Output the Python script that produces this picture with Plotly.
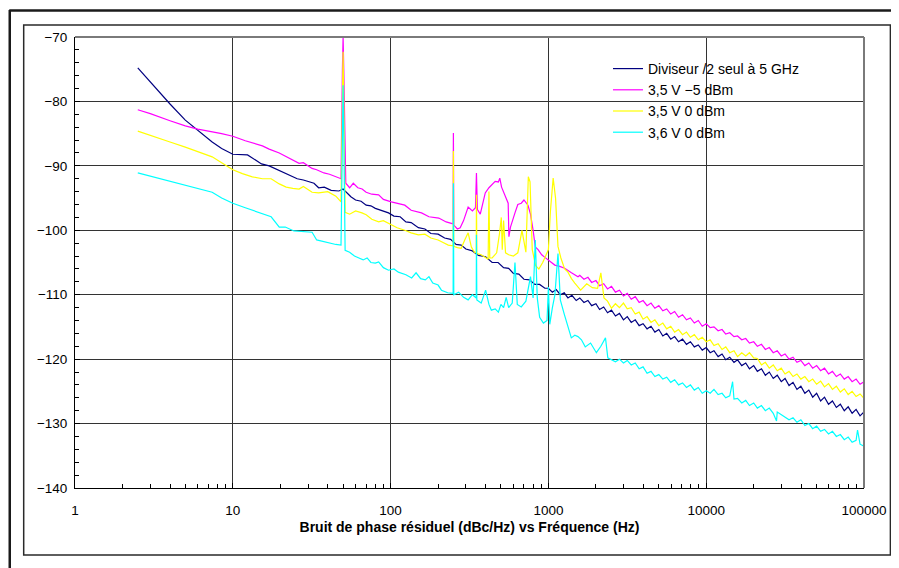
import plotly.graph_objects as go

# ---------------- data ----------------
# Diviseur /2 seul à 5 GHz
DIV_F = [2.5, 3, 4, 5, 6, 7.4, 8.5, 10, 12.4, 13,
         15.2, 17, 20, 23, 25.6, 28, 30, 32.7, 35, 38,
         42, 47, 50, 53, 56, 60, 65, 70, 75, 80,
         85, 90, 97, 105, 115, 125, 135, 150, 165, 180,
         200, 220, 240, 260, 280, 300, 330, 360, 400, 440,
         480, 520, 560, 600, 650, 700, 760, 820, 880, 950,
         1000, 1060, 1120, 1190, 1260, 1330, 1410, 1500, 1580, 1680,
         1780, 1880, 2000, 2110, 2240, 2370, 2510, 2660, 2820, 2990,
         3160, 3350, 3550, 3760, 3980, 4220, 4470, 4730, 5010, 5310,
         5620, 5960, 6310, 6680, 7080, 7500, 7940, 8410, 8910, 9440,
         10000, 10600, 11200, 11900, 12600, 13300, 14100, 15000, 15800, 16800,
         17800, 18800, 20000, 21100, 22400, 23700, 25100, 26600, 28200, 29900,
         31600, 33500, 35500, 37600, 39800, 42200, 44700, 47300, 50100, 53100,
         56200, 59600, 63100, 66800, 70800, 75000, 79400, 84100, 89100, 94400,
         100000]
DIV_DB = [-74.8, -77.0, -80.4, -82.9, -84.5, -86.3, -87.3, -88.2, -88.3, -88.6,
          -89.7, -90.0, -90.8, -91.5, -92.0, -92.2, -92.4, -92.7, -93.4, -93.3,
          -93.8, -93.9, -93.6, -94.2, -94.8, -95.3, -95.5, -96.1, -96.2, -96.6,
          -96.8, -97.1, -97.3, -97.8, -97.9, -98.7, -98.8, -99.6, -99.8, -100.5,
          -100.6, -101.2, -101.4, -102.2, -102.3, -102.9, -103.2, -103.9, -104.1, -105.0,
          -105.0, -105.8, -105.9, -106.7, -106.8, -107.6, -107.7, -108.4, -108.4, -109.0,
          -109.0, -109.6, -109.2, -110.0, -109.7, -110.5, -110.1, -110.9, -110.5, -111.2,
          -110.9, -111.7, -111.4, -112.3, -111.9, -112.8, -112.4, -113.3, -112.9, -113.9,
          -113.4, -114.3, -113.9, -114.8, -114.5, -115.3, -114.9, -115.8, -115.4, -116.4,
          -116.0, -116.9, -116.5, -117.3, -116.9, -117.7, -117.3, -118.1, -117.8, -118.6,
          -118.2, -119.0, -118.7, -119.6, -119.2, -120.1, -119.7, -120.5, -120.1, -121.0,
          -120.6, -121.5, -121.0, -121.9, -121.5, -122.5, -122.0, -123.0, -122.5, -123.5,
          -123.0, -124.1, -123.6, -124.7, -124.2, -125.3, -124.8, -125.9, -125.3, -126.5,
          -125.9, -127.0, -126.5, -127.5, -127.0, -128.0, -127.4, -128.4, -127.8, -128.8,
          -128.2]

# 3,5 V -5 dBm
M5_F = [2.5, 3, 4, 5, 6, 7.4, 8.5, 10, 12, 15.4,
        17, 19.7, 22.8, 26.3, 28, 31.8, 34, 37.8, 41, 45.6,
        48.5, 49.5, 50, 50.5, 51.5, 52, 55, 58, 62, 66,
        70, 76, 84, 90, 101, 110, 123, 135, 157, 175,
        202, 225, 244, 249, 250, 251.5, 265, 276, 290, 310,
        330, 345, 350, 355, 370, 398, 420, 436, 460, 482,
        492, 505, 530, 556, 562, 575, 614, 640, 673, 700,
        742, 770, 800, 826, 860, 907, 950, 1000, 1050, 1098,
        1180, 1267, 1400, 1540, 1580, 1680, 1780, 1880, 2000, 2110,
        2240, 2370, 2510, 2660, 2820, 2990, 3160, 3350, 3550, 3760,
        3980, 4220, 4470, 4730, 5010, 5310, 5620, 5960, 6310, 6680,
        7080, 7500, 7940, 8410, 8910, 9440, 10000, 10600, 11200, 11900,
        12600, 13300, 14100, 15000, 15800, 16800, 17800, 18800, 20000, 21100,
        22400, 23700, 25100, 26600, 28200, 29900, 31600, 33500, 35500, 37600,
        39800, 42200, 44700, 47300, 50100, 53100, 56200, 59600, 63100, 66800,
        70800, 75000, 79400, 84100, 89100, 94400, 100000]
M5_DB = [-81.3, -81.9, -83.0, -83.8, -84.3, -84.7, -85.0, -85.4, -86.1, -86.9,
         -87.4, -88.0, -88.8, -89.6, -89.5, -90.4, -90.6, -91.1, -91.3, -91.7,
         -92.0, -75.0, -70.0, -75.0, -92.3, -92.7, -93.4, -92.7, -93.4, -93.6,
         -94.1, -94.4, -94.5, -95.2, -95.6, -95.8, -96.1, -96.9, -97.3, -97.9,
         -98.1, -98.7, -98.9, -99.0, -84.9, -99.2, -99.8, -99.6, -98.5, -96.4,
         -97.0, -96.5, -91.1, -96.8, -97.5, -94.2, -93.4, -93.0, -92.4, -92.5,
         -91.9, -93.3, -94.5, -95.8, -101.0, -99.5, -97.3, -96.0, -95.8, -95.3,
         -96.1, -97.5, -100.0, -102.6, -103.0, -103.8, -104.2, -104.6, -105.0, -105.4,
         -105.6, -105.9, -106.6, -107.2, -107.0, -107.6, -107.3, -108.1, -107.8, -108.6,
         -108.3, -109.1, -108.7, -109.6, -109.3, -110.2, -109.8, -110.7, -110.3, -111.2,
         -110.9, -111.7, -111.3, -112.1, -111.7, -112.5, -112.2, -113.0, -112.6, -113.5,
         -113.1, -113.9, -113.6, -114.4, -114.0, -114.9, -114.5, -115.1, -115.0, -115.6,
         -115.4, -116.1, -115.9, -116.5, -116.4, -117.0, -116.8, -117.5, -117.3, -118.0,
         -117.7, -118.5, -118.2, -119.0, -118.7, -119.5, -119.2, -120.0, -119.7, -120.5,
         -120.2, -121.0, -120.6, -121.4, -121.0, -121.8, -121.4, -122.3, -121.9, -122.7,
         -122.3, -123.1, -122.7, -123.5, -123.1, -123.9, -123.5]

# 3,5 V 0 dBm
Y0_F = [2.5, 3, 4, 5, 6, 7.4, 8.5, 10, 11.5, 13.3,
        15.4, 17.5, 19.7, 21.8, 24, 26.3, 28, 31.8, 35, 40,
        45, 48.5, 49.5, 50, 50.5, 51.5, 55, 60, 65.8, 70,
        76, 84, 90, 97.4, 110, 123, 135, 150, 165, 180,
        200, 215, 232, 249, 250, 251.5, 265, 280, 295, 310,
        325, 340, 349, 350, 352, 375, 400, 415, 420, 425,
        440, 470, 490, 503, 510, 520, 535, 560, 600, 640,
        680, 720, 746, 765, 790, 810, 830, 870, 920, 960,
        1000, 1030, 1072, 1110, 1150, 1200, 1267, 1330, 1400, 1470,
        1600, 1750, 1900, 2050, 2150, 2250, 2370, 2510, 2660, 2820,
        2990, 3160, 3350, 3550, 3760, 3980, 4220, 4470, 4730, 5010,
        5310, 5620, 5960, 6310, 6680, 7080, 7500, 7940, 8410, 8910,
        9440, 10000, 10600, 11200, 11900, 12600, 13300, 14100, 15000, 15800,
        16800, 17800, 18800, 20000, 21100, 22400, 23700, 25100, 26600, 28200,
        29900, 31600, 33500, 35500, 37600, 39800, 42200, 44700, 47300, 50100,
        53100, 56200, 59600, 63100, 66800, 70800, 75000, 79400, 84100, 89100,
        94400, 100000]
Y0_DB = [-84.6, -85.3, -86.3, -87.1, -87.8, -88.6, -89.5, -90.6, -91.2, -91.7,
         -92.0, -92.0, -92.8, -93.3, -93.5, -93.6, -93.2, -94.1, -94.2, -94.0,
         -94.7, -95.6, -80.0, -72.3, -80.0, -97.2, -97.5, -97.0, -97.3, -97.6,
         -98.3, -98.7, -98.5, -98.9, -99.6, -100.0, -100.4, -100.7, -100.6, -101.2,
         -101.5, -101.9, -102.3, -102.4, -87.7, -102.5, -102.7, -102.8, -101.5, -100.4,
         -102.6, -103.4, -103.5, -94.5, -103.6, -103.8, -104.2, -104.5, -94.0, -104.3,
         -104.3, -103.5, -100.5, -98.0, -103.0, -98.5, -103.5, -103.8, -104.0, -103.5,
         -100.0, -103.4, -91.7, -92.5, -103.0, -104.6, -105.5, -106.0, -105.0, -104.0,
         -103.0, -97.0, -91.9, -95.0, -102.5, -104.3, -106.0, -106.5, -107.5, -108.2,
         -109.3, -108.3, -108.9, -109.0, -106.6, -110.5, -111.0, -112.1, -111.4, -112.0,
         -111.3, -112.2, -112.0, -113.0, -112.7, -113.8, -113.4, -114.3, -113.9, -114.8,
         -114.4, -115.3, -114.9, -115.8, -115.4, -116.2, -115.8, -116.6, -116.2, -117.0,
         -116.6, -117.3, -117.0, -117.9, -117.6, -118.5, -118.1, -119.0, -118.7, -119.6,
         -119.0, -119.5, -119.0, -119.8, -119.9, -120.9, -120.5, -121.4, -120.9, -121.8,
         -121.4, -122.3, -121.9, -122.7, -122.3, -123.1, -122.7, -123.5, -123.1, -123.9,
         -123.4, -124.3, -123.8, -124.7, -124.2, -125.1, -124.6, -125.5, -125.0, -125.8,
         -125.4, -126.1]

# 3,6 V 0 dBm
C0_F = [2.5, 3, 4, 5, 6, 7.4, 8.5, 10, 12, 14.5,
        17.5, 19.7, 21.5, 24.4, 28, 31.8, 34, 38, 45, 48.5,
        49.5, 50, 50.5, 51.5, 55, 59, 63, 67, 71, 75,
        80, 84, 90, 97, 105, 112, 125, 136, 145, 155,
        166, 175, 185, 200, 210, 230, 249, 250, 251.5, 270,
        290, 310, 330, 349, 350, 352, 375, 400, 420, 435,
        460, 482, 500, 520, 540, 560, 590, 614, 635, 673,
        720, 770, 800, 826, 850, 880, 930, 980, 1000, 1020,
        1060, 1100, 1150, 1190, 1260, 1334, 1397, 1470, 1540, 1620,
        1712, 1850, 2014, 2150, 2300, 2380, 2660, 2820, 2990, 3160,
        3350, 3550, 3760, 3980, 4220, 4470, 4730, 5010, 5310, 5620,
        5960, 6310, 6680, 7080, 7500, 7940, 8410, 8910, 9440, 10000,
        10600, 11200, 11900, 12600, 13300, 14100, 14700, 15000, 15800, 16800,
        17800, 18800, 20000, 21100, 22400, 23700, 25100, 26600, 27900, 28200,
        29900, 31600, 33500, 35500, 37600, 39800, 42200, 44700, 47300, 50100,
        53100, 56200, 59600, 63100, 66800, 70800, 75000, 79400, 84100, 89100,
        91000, 94400, 100000]
C0_DB = [-91.1, -91.6, -92.4, -93.0, -93.5, -94.1, -95.0, -95.8, -96.5, -97.2,
         -97.9, -99.5, -99.5, -100.1, -100.2, -100.3, -101.5, -101.8, -102.2, -102.3,
         -85.0, -77.5, -85.0, -103.1, -103.4, -104.0, -104.3, -104.6, -104.3, -105.0,
         -105.1, -104.9, -105.8, -106.2, -106.0, -106.5, -106.9, -107.4, -106.6, -107.5,
         -107.7, -107.2, -108.2, -108.5, -109.3, -109.7, -109.8, -92.7, -110.0, -109.6,
         -110.4, -110.8, -110.0, -110.5, -100.7, -110.8, -111.3, -109.3, -111.5, -112.4,
         -112.2, -112.7, -111.5, -112.0, -110.4, -112.0, -111.3, -105.0, -111.5, -111.9,
         -111.0, -107.2, -110.5, -101.5, -110.5, -113.5, -114.4, -114.0, -108.8, -114.6,
         -112.0, -110.0, -103.6, -110.8, -113.0, -115.0, -116.7, -116.3, -116.5, -117.0,
         -118.1, -117.5, -119.0, -118.0, -116.7, -119.8, -120.4, -120.0, -120.6, -120.2,
         -120.9, -120.6, -121.5, -121.2, -122.2, -121.9, -122.7, -122.4, -123.1, -122.8,
         -123.6, -123.2, -124.0, -123.7, -124.4, -124.0, -124.8, -124.4, -125.3, -124.9,
         -125.3, -124.7, -125.5, -125.3, -126.0, -125.7, -123.5, -126.2, -126.1, -126.8,
         -126.4, -127.2, -126.8, -127.6, -127.2, -128.0, -127.6, -128.4, -129.6, -128.2,
         -128.6, -128.9, -129.4, -129.1, -129.8, -129.4, -130.3, -130.0, -130.8, -130.4,
         -131.2, -130.9, -131.6, -131.2, -132.0, -131.7, -132.5, -132.1, -132.9, -132.6,
         -131.0, -133.2, -133.5]

SERIES_NAMES = ["Diviseur /2 seul à 5 GHz", "3,5 V \u22125 dBm", "3,5 V 0 dBm", "3,6 V 0 dBm"]
SERIES_COLORS = ["#000080", "#FF00FF", "#FFFF00", "#00FFFF"]

X_TICKS = [1, 10, 100, 1000, 10000, 100000]
X_TICKTEXT = ["1", "10", "100", "1000", "10000", "100000"]
X_MINOR = [m * 10 ** k for k in range(5) for m in range(2, 10)]
Y_TICKS = [-140, -130, -120, -110, -100, -90, -80, -70]
Y_TICKTEXT = ["\u2212140", "\u2212130", "\u2212120", "\u2212110", "\u2212100", "\u221290", "\u221280", "\u221270"]

X_TITLE = "Bruit de phase résiduel (dBc/Hz) vs Fréquence (Hz)"

ALL_F = [DIV_F, M5_F, Y0_F, C0_F]
ALL_DB = [DIV_DB, M5_DB, Y0_DB, C0_DB]
for f_, d_ in zip(ALL_F, ALL_DB):
    assert len(f_) == len(d_), (len(f_), len(d_))

# ---------------- figure ----------------
# screen coordinates (page body has an 8px margin)
OFF = 8
SW, SH = 899, 568
W, H = SW - OFF, SH - OFF
L, R, T, B = 75, 867, 37, 488
FONT = "Liberation Sans, Arial, Helvetica, sans-serif"


def px(x):
    return (x - L) / (R - L)


def py(y):
    return (B - y) / (B - T)


fig = go.Figure()
for f, db, name, col in zip(ALL_F, ALL_DB, SERIES_NAMES, SERIES_COLORS):
    fig.add_trace(go.Scatter(x=f, y=db, mode="lines", name=name,
                             line=dict(color=col, width=1.2)))

fig.update_layout(
    width=W, height=H,
    margin=dict(l=L - OFF, r=SW - R, t=T - OFF, b=SH - B, pad=0),
    paper_bgcolor="white", plot_bgcolor="white",
    font=dict(family=FONT, size=13.5, color="black"),
    showlegend=True,
    legend=dict(x=px(610), y=py(53), xanchor="left", yanchor="top",
                bgcolor="rgba(0,0,0,0)", borderwidth=0,
                font=dict(family=FONT, size=14, color="black"),
                tracegroupgap=0),
)

fig.update_xaxes(
    type="log", range=[0, 5],
    tickvals=X_TICKS, ticktext=X_TICKTEXT,
    showgrid=True, gridcolor="#333333", gridwidth=1,
    showline=True, linecolor="black", linewidth=1,
    ticks="inside", ticklen=5, tickcolor="black",
    ticklabelstandoff=10,
    minor=dict(tickvals=X_MINOR, ticks="inside", ticklen=4, tickcolor="black", showgrid=False),
    zeroline=False,
    title=dict(text=X_TITLE, font=dict(family=FONT, size=14, weight="bold"), standoff=4),
    tickfont=dict(size=13.5),
)
fig.update_yaxes(
    range=[-140, -70], tickvals=Y_TICKS, ticktext=Y_TICKTEXT,
    showgrid=True, gridcolor="#333333", gridwidth=1,
    showline=True, linecolor="black", linewidth=1,
    ticks="inside", ticklen=5, tickcolor="black",
    ticklabelstandoff=4,
    minor=dict(dtick=2, ticks="inside", ticklen=4, tickcolor="black", showgrid=False),
    zeroline=False,
    tickfont=dict(size=13.5),
)

shapes = []
# plot area top/right border (grey)
shapes.append(dict(type="line", xref="paper", yref="paper", x0=0, x1=1, y0=1, y1=1,
                   line=dict(color="#7a7a7a", width=2)))
shapes.append(dict(type="line", xref="paper", yref="paper", x0=1, x1=1, y0=0, y1=1,
                   line=dict(color="#7a7a7a", width=2)))
# inner frame
shapes.append(dict(type="rect", xref="paper", yref="paper",
                   x0=px(23.5), x1=px(893.5), y0=py(555), y1=py(25),
                   line=dict(color="#2a2a2a", width=1.5)))
# outer frame (left and top, partly outside picture)
shapes.append(dict(type="line", xref="paper", yref="paper", x0=px(9.5), x1=px(9.5), y0=py(575), y1=py(10),
                   line=dict(color="#1a1a1a", width=2.5)))
shapes.append(dict(type="line", xref="paper", yref="paper", x0=px(9), x1=px(905), y0=py(10.5), y1=py(10.5),
                   line=dict(color="#1a1a1a", width=2.5)))
fig.update_layout(shapes=shapes)

fig.write_html("out.html")
